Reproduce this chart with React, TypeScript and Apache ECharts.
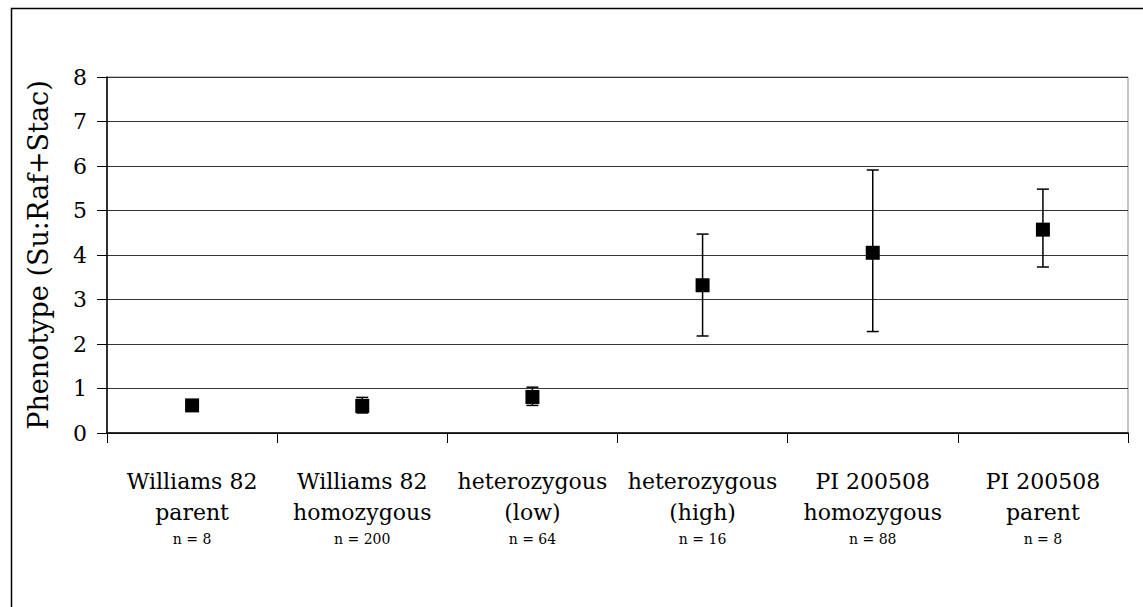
import React, { useEffect, useRef } from "react";
import * as echarts from "echarts";

const categories = [
  "Williams 82\nparent",
  "Williams 82\nhomozygous",
  "heterozygous\n(low)",
  "heterozygous\n(high)",
  "PI 200508\nhomozygous",
  "PI 200508\nparent",
];
const sampleSizes = ["n = 8", "n = 200", "n = 64", "n = 16", "n = 88", "n = 8"];
const means = [0.62, 0.61, 0.81, 3.32, 4.05, 4.57];
const lows = [0.6, 0.45, 0.62, 2.18, 2.28, 3.73];
const highs = [0.64, 0.8, 1.03, 4.47, 5.91, 5.48];
const yTicks = [0, 1, 2, 3, 4, 5, 6, 7, 8];

const FONT = "DejaVu Serif";

export default function App() {
  const ref = useRef<HTMLDivElement>(null);
  useEffect(() => {
    if (!ref.current) return;
    const chart = echarts.init(ref.current, null, { renderer: "svg" });
    const labels = categories.map((c, i) => {
      const lines = c.split("\n").map((l) => `{a|${l}}`).join("\n");
      return `${lines}\n{b|${sampleSizes[i]}}`;
    });
    chart.setOption({
      animation: false,
      backgroundColor: "#ffffff",
      textStyle: { fontFamily: FONT },
      grid: {
        left: 107,
        right: 15,
        top: 77,
        bottom: 174,
        show: true,
        borderColor: "#8a8a8a",
        borderWidth: 1,
        backgroundColor: "transparent",
      },
      graphic: [
        {
          type: "rect",
          left: 9,
          top: 6,
          shape: { x: 0, y: 0, width: 1300, height: 800 },
          style: { fill: "none", stroke: "#000", lineWidth: 1.5 },
          silent: true,
          z: -1,
        },
      ],
      xAxis: {
        type: "category",
        data: labels,
        boundaryGap: true,
        axisLine: { lineStyle: { color: "#000", width: 1.5 } },
        axisTick: { show: true, length: 10, alignWithLabel: false, lineStyle: { color: "#000", width: 1 } },
        axisLabel: {
          margin: 33,
          interval: 0,
          color: "#000",
          fontFamily: FONT,
          rich: {
            a: { fontSize: 22, lineHeight: 31, fontFamily: FONT, color: "#000", align: "center" },
            b: { fontSize: 14, lineHeight: 22, fontFamily: FONT, color: "#000", align: "center" },
          },
        },
      },
      yAxis: {
        type: "value",
        min: 0,
        max: 8,
        interval: 1,
        name: "Phenotype (Su:Raf+Stac)",
        nameLocation: "middle",
        nameGap: 55,
        nameTextStyle: { fontSize: 27, fontFamily: FONT, color: "#000" },
        axisLine: { show: true, lineStyle: { color: "#000", width: 1.5 } },
        axisTick: { show: true, length: 10, lineStyle: { color: "#000", width: 1 } },
        axisLabel: {
          margin: 20,
          fontSize: 22,
          fontFamily: FONT,
          color: "#000",
          formatter: (v: number) => (yTicks.includes(v) ? String(v) : ""),
        },
        splitLine: { show: true, lineStyle: { color: "#333", width: 1 } },
      },
      series: [
        {
          type: "custom",
          data: categories.map((_, i) => [i, lows[i], highs[i]]),
          renderItem: (params: any, api: any) => {
            const x = api.value(0);
            const lo = api.coord([x, api.value(1)]);
            const hi = api.coord([x, api.value(2)]);
            const cap = 6;
            const st = { stroke: "#000", lineWidth: 1.5 };
            return {
              type: "group",
              children: [
                { type: "line", shape: { x1: lo[0], y1: lo[1], x2: hi[0], y2: hi[1] }, style: st },
                { type: "line", shape: { x1: lo[0] - cap, y1: lo[1], x2: lo[0] + cap, y2: lo[1] }, style: st },
                { type: "line", shape: { x1: hi[0] - cap, y1: hi[1], x2: hi[0] + cap, y2: hi[1] }, style: st },
              ],
            };
          },
          z: 2,
        },
        {
          type: "scatter",
          data: means,
          symbol: "rect",
          symbolSize: 14,
          itemStyle: { color: "#000", opacity: 1 },
          z: 3,
        },
      ],
    });
    return () => chart.dispose();
  }, []);
  return (
    <div
      ref={ref}
      style={{ position: "fixed", left: 0, top: 0, width: 1143, height: 607, background: "#fff" }}
    />
  );
}
